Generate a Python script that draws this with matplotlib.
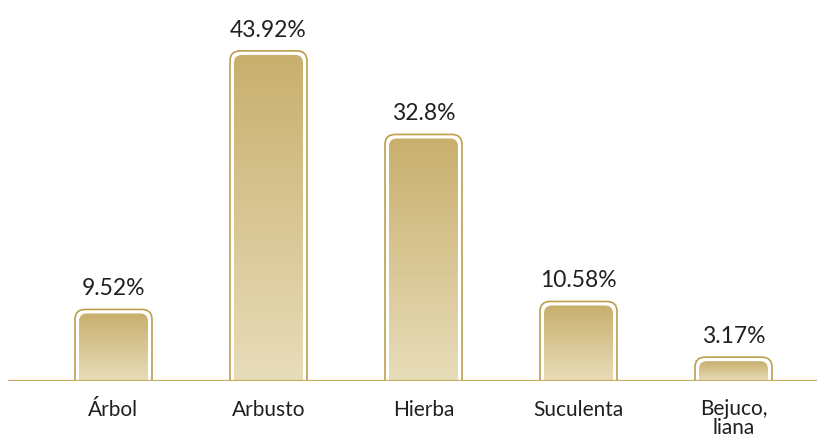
import matplotlib
matplotlib.use("Agg")
import matplotlib.pyplot as plt
import numpy as np
from matplotlib.patches import FancyBboxPatch
from matplotlib.colors import LinearSegmentedColormap

categories = ["Árbol", "Arbusto", "Hierba", "Suculenta", "Bejuco,\nliana"]
values = [9.52, 43.92, 32.8, 10.58, 3.17]
labels = ["9.52%", "43.92%", "32.8%", "10.58%", "3.17%"]

plt.rcParams['font.family'] = ['Lato', 'DejaVu Sans']

W, H = 818, 438
fig = plt.figure(figsize=(W / 100, H / 100), dpi=100)
ax_left, ax_right = 8, 817
base_px = 381
ax = fig.add_axes([ax_left / W, (H - base_px) / H, (ax_right - ax_left) / W, base_px / H])
ax.set_axis_off()

px_per_x = 155.0
px_per_y = 7.516
x0 = (ax_left - 113.5) / px_per_x
x1 = (ax_right - 113.5) / px_per_x
ytop = base_px / px_per_y

outline_col = "#BC9E4C"
base_col = "#C6AB63"
cmap = LinearSegmentedColormap.from_list("gold", ["#E8DDBA", "#C8AF6D"])

aspect = px_per_x / px_per_y
outer_half = 38.5 / px_per_x
inner_half = 34.5 / px_per_x
outer_r = 10.0 / px_per_x
inner_r = 8.0 / px_per_x
gap = 4.0 / px_per_y
below = -3.0

grad = np.linspace(0, 1, 256).reshape(-1, 1)

for i, v in enumerate(values):
    outer = FancyBboxPatch((i - outer_half, below), 2 * outer_half, v - below,
                           boxstyle=f"round,pad=0,rounding_size={outer_r}",
                           mutation_aspect=aspect, facecolor="white",
                           edgecolor=outline_col, linewidth=1.2, zorder=2)
    ax.add_patch(outer)
    inner = FancyBboxPatch((i - inner_half, below), 2 * inner_half, v - gap - below,
                           boxstyle=f"round,pad=0,rounding_size={inner_r}",
                           mutation_aspect=aspect, facecolor="none",
                           edgecolor="none", zorder=3)
    ax.add_patch(inner)
    im = ax.imshow(grad, extent=[i - inner_half, i + inner_half, 0, v - gap],
                   origin="lower", aspect="auto", cmap=cmap, zorder=3,
                   interpolation="bilinear")
    im.set_clip_path(inner)
    ax.annotate(labels[i], xy=(i, v), xytext=(0, 14), textcoords="offset pixels",
                ha="center", va="baseline", fontsize=16.5, color="#231F20")
    nlines = categories[i].count("\n") + 1
    ax.annotate(categories[i], xy=(i, 0), xytext=(0, -35 - 18 * (nlines - 1)),
                textcoords="offset pixels",
                ha="center", va="baseline", fontsize=15, color="#231F20",
                linespacing=0.95)

ax.axhline(0, color=base_col, linewidth=1.6, zorder=5)
ax.set_xlim(x0, x1)
ax.set_ylim(0, ytop)

fig.savefig("out.png", dpi=100)
